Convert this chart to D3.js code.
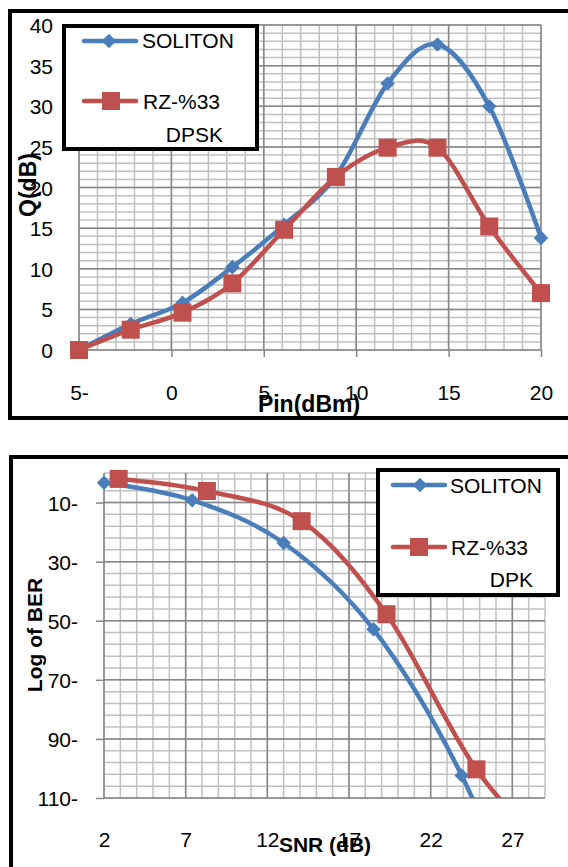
<!DOCTYPE html>
<html>
<head>
<meta charset="utf-8">
<script src="https://cdn.jsdelivr.net/npm/d3@7"></script>
<style>
  body { margin: 0; background: #fff; }
  svg { display: block; font-family: "Liberation Sans", Arial, sans-serif; }
</style>
</head>
<body>
<main></main>
<script>
// Q vs Pin (top chart)
const pinValues = [-5, -2.2, 0.6, 3.3, 6.1, 8.9, 11.7, 14.4, 17.2, 20];
const qSoliton = [0, 3.2, 5.8, 10.2, 15.4, 21.4, 32.8, 37.6, 30.0, 13.8];
const qRz = [0, 2.5, 4.6, 8.2, 14.8, 21.3, 24.9, 24.9, 15.2, 7.0];
const pinTicks = [-5, 0, 5, 10, 15, 20];
const qTicks = [0, 5, 10, 15, 20, 25, 30, 35, 40];

// Log of BER vs SNR (bottom chart)
const snrSoliton = [2, 7.4, 13.0, 18.5, 23.9, 29.4];
const berSoliton = [-3.3, -9.2, -23.7, -52.9, -102.4, -175];
const snrRz = [2.9, 8.3, 14.1, 19.3, 24.8, 30.3];
const berRz = [-2.0, -6.1, -16.3, -47.8, -100.3, -134];
const snrTicks = [2, 7, 12, 17, 22, 27];
const berTicks = [-110, -90, -70, -50, -30, -10];

const legendTop = ["SOLITON", "RZ-%33", "DPSK"];
const legendBottom = ["SOLITON", "RZ-%33", "DPK"];

document.addEventListener('DOMContentLoaded', function(){

    const w = 568;
    const h = 867;
    const blue = "#4a7ebb";
    const red = "#c0504d";
    const majorGrid = "#868686";
    const minorGrid = "#c0c0c0";

    const svg = d3.select("main")
        .append("svg")
        .attr("width", w)
        .attr("height", h);

    // RTL style minus sign : -5 -> "5-"
    const rtl = d => d < 0 ? Math.abs(d) + "-" : String(d);

    function marker(g, type, x, y, color){
        if (type === "diamond") {
            g.append("path")
             .attr("d", d3.symbol(d3.symbolDiamond2, 135)())
             .attr("transform", "translate(" + x + "," + y + ")")
             .attr("fill", color);
        } else {
            g.append("rect")
             .attr("x", x - 9).attr("y", y - 9)
             .attr("width", 18).attr("height", 18)
             .attr("fill", color);
        }
    }

    function grid(g, x, y, xMinor, yMinor, xMajor, yMajor){
        g.append("g").selectAll("line")
         .data(xMinor).enter().append("line")
         .attr("x1", d => x(d)).attr("x2", d => x(d))
         .attr("y1", y.range()[0]).attr("y2", y.range()[1])
         .attr("stroke", minorGrid).attr("stroke-width", 1.5);
        g.append("g").selectAll("line")
         .data(yMinor).enter().append("line")
         .attr("y1", d => y(d)).attr("y2", d => y(d))
         .attr("x1", x.range()[0]).attr("x2", x.range()[1])
         .attr("stroke", minorGrid).attr("stroke-width", 1.5);
        g.append("g").selectAll("line")
         .data(xMajor).enter().append("line")
         .attr("x1", d => x(d)).attr("x2", d => x(d))
         .attr("y1", y.range()[0]).attr("y2", y.range()[1])
         .attr("stroke", majorGrid).attr("stroke-width", 1.5);
        g.append("g").selectAll("line")
         .data(yMajor).enter().append("line")
         .attr("y1", d => y(d)).attr("y2", d => y(d))
         .attr("x1", x.range()[0]).attr("x2", x.range()[1])
         .attr("stroke", majorGrid).attr("stroke-width", 1.5);
    }

    function series(g, x, y, xs, ys, color, type, clipId){
        const pts = xs.map((d, i) => [d, ys[i]]);
        const line = d3.line()
            .x(d => x(d[0]))
            .y(d => y(d[1]))
            .curve(d3.curveCardinal.tension(0));
        g.append("path")
         .datum(pts)
         .attr("d", line)
         .attr("fill", "none")
         .attr("stroke", color)
         .attr("stroke-width", 4.5)
         .attr("clip-path", clipId ? "url(#" + clipId + ")" : null);
        const xd = x.domain(), yd = y.domain();
        pts.filter(d => d[0] >= xd[0] && d[0] <= xd[1] && d[1] >= d3.min(yd) && d[1] <= d3.max(yd))
           .forEach(d => marker(g, type, x(d[0]), y(d[1]), color));
    }

    function legend(g, x0, y0, x1, y1, texts, rows){
        g.append("rect")
         .attr("x", x0).attr("y", y0)
         .attr("width", x1 - x0).attr("height", y1 - y0)
         .attr("fill", "#fff").attr("stroke", "#000").attr("stroke-width", 4);
        rows.forEach(r => {
            g.append("line")
             .attr("x1", r.lx0).attr("x2", r.lx1)
             .attr("y1", r.ly).attr("y2", r.ly)
             .attr("stroke", r.color).attr("stroke-width", 4.5)
             .attr("stroke-linecap", "round");
            marker(g, r.type, r.mx, r.ly, r.color);
        });
        texts.forEach(t => {
            g.append("text")
             .attr("x", t.x).attr("y", t.y)
             .attr("text-anchor", t.anchor || "start")
             .attr("font-size", 21)
             .text(t.text);
        });
    }

    //--------------------- Top chart ---------------------
    const top = svg.append("g");
    top.append("rect")
       .attr("x", 10).attr("y", 11)
       .attr("width", 600).attr("height", 407)
       .attr("fill", "#fff").attr("stroke", "#000").attr("stroke-width", 4);

    const x1 = d3.scaleLinear().domain([-5, 20]).range([79, 541]);
    const y1 = d3.scaleLinear().domain([0, 40]).range([350, 25]);

    grid(top, x1, y1, x1.ticks(25), y1.ticks(40), pinTicks, qTicks);

    // x ticks below the axis
    top.append("g")
       .attr("transform", "translate(0,350)")
       .call(d3.axisBottom(x1).tickValues(pinTicks).tickSize(7).tickFormat(rtl))
       .call(g => g.select(".domain").remove())
       .call(g => g.selectAll("line").attr("stroke", majorGrid).attr("stroke-width", 1.5))
       .call(g => g.selectAll("text").attr("font-size", 21).attr("font-family", "Liberation Sans")
                   .attr("fill", "#000").attr("dy", 0).attr("y", 50));

    top.append("g")
       .attr("transform", "translate(53,0)")
       .call(d3.axisLeft(y1).tickValues(qTicks).tickSize(0).tickFormat(rtl))
       .call(g => g.select(".domain").remove())
       .call(g => g.selectAll("text").attr("font-size", 21).attr("font-family", "Liberation Sans")
                   .attr("fill", "#000").attr("x", 0).attr("dy", "0.36em"));

    series(top, x1, y1, pinValues, qSoliton, blue, "diamond");
    series(top, x1, y1, pinValues, qRz, red, "square");

    legend(top, 64, 26, 257, 149, [
        {x: 142, y: 48, text: legendTop[0]},
        {x: 143, y: 109, text: legendTop[1]},
        {x: 223, y: 142, text: legendTop[2], anchor: "end"}
    ], [
        {lx0: 84, lx1: 136, ly: 41, mx: 109, color: blue, type: "diamond"},
        {lx0: 84, lx1: 136, ly: 101, mx: 111, color: red, type: "square"}
    ]);

    top.append("text")
       .attr("transform", "translate(36,185) rotate(-90)")
       .attr("text-anchor", "middle")
       .attr("font-size", 23).attr("font-weight", "bold")
       .text("Q(dB)");

    top.append("text")
       .attr("x", 309).attr("y", 412)
       .attr("text-anchor", "middle")
       .attr("font-size", 23).attr("font-weight", "bold")
       .text("Pin(dBm)");

    //--------------------- Bottom chart ---------------------
    const bot = svg.append("g");
    bot.append("rect")
       .attr("x", 11).attr("y", 457)
       .attr("width", 600).attr("height", 450)
       .attr("fill", "#fff").attr("stroke", "#000").attr("stroke-width", 4);

    const x2 = d3.scaleLinear().domain([2, 29]).range([104, 545]);
    const y2 = d3.scaleLinear().domain([-110, 0]).range([798, 473]);

    svg.append("defs").append("clipPath").attr("id", "plot2")
       .append("rect").attr("x", 104).attr("y", 473).attr("width", 441).attr("height", 325);

    grid(bot, x2, y2, x2.ticks(27), d3.range(-110, 1, 4).concat([0]), snrTicks, berTicks);

    bot.append("g")
       .attr("transform", "translate(104,0)")
       .call(d3.axisLeft(y2).tickValues(berTicks).tickSize(8).tickFormat(rtl))
       .call(g => g.select(".domain").remove())
       .call(g => g.selectAll("line").attr("stroke", majorGrid).attr("stroke-width", 1.5))
       .call(g => g.selectAll("text").attr("font-size", 21).attr("font-family", "Liberation Sans")
                   .attr("fill", "#000").attr("x", -26).attr("dy", "0.36em"));

    bot.append("g")
       .attr("transform", "translate(0,798)")
       .call(d3.axisBottom(x2).tickValues(snrTicks).tickSize(0).tickFormat(rtl))
       .call(g => g.select(".domain").remove())
       .call(g => g.selectAll("text").attr("font-size", 21).attr("font-family", "Liberation Sans")
                   .attr("fill", "#000").attr("dy", 0).attr("y", 49));

    series(bot, x2, y2, snrSoliton, berSoliton, blue, "diamond", "plot2");
    series(bot, x2, y2, snrRz, berRz, red, "square", "plot2");

    legend(bot, 378, 470, 558, 595, [
        {x: 450, y: 493, text: legendBottom[0]},
        {x: 451, y: 555, text: legendBottom[1]},
        {x: 533, y: 587, text: legendBottom[2], anchor: "end"}
    ], [
        {lx0: 393, lx1: 445, ly: 485, mx: 420, color: blue, type: "diamond"},
        {lx0: 393, lx1: 445, ly: 547, mx: 419, color: red, type: "square"}
    ]);

    bot.append("text")
       .attr("transform", "translate(42,635) rotate(-90)")
       .attr("text-anchor", "middle")
       .attr("font-size", 21).attr("font-weight", "bold")
       .text("Log of BER");

    bot.append("text")
       .attr("x", 325).attr("y", 852)
       .attr("text-anchor", "middle")
       .attr("font-size", 21).attr("font-weight", "bold")
       .text("SNR (dB)");
});
</script>
</body>
</html>
